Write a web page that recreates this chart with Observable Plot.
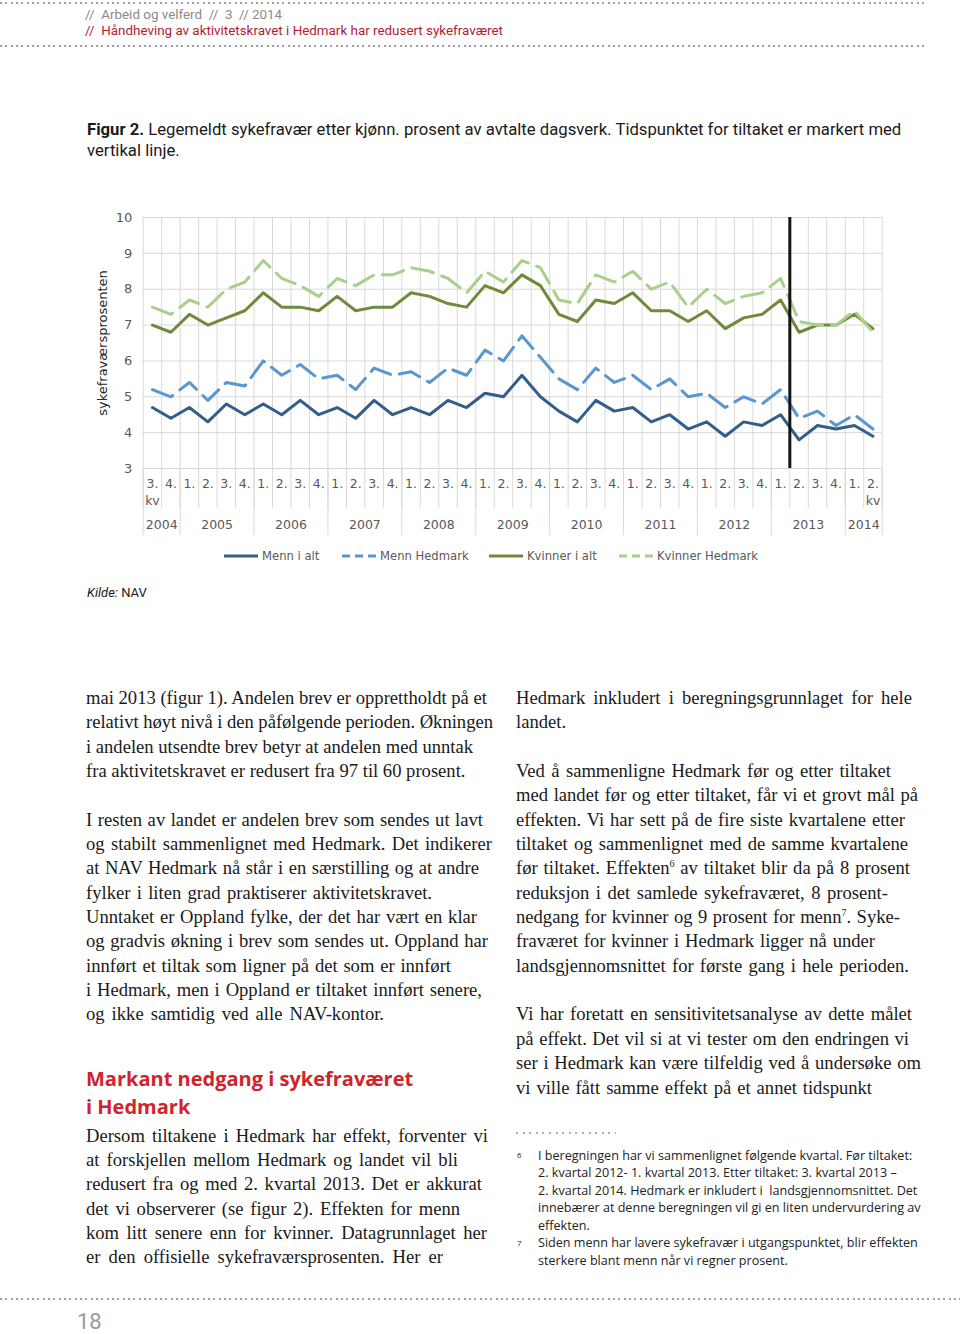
<!DOCTYPE html>
<html><head><meta charset="utf-8">
<script src="https://cdn.jsdelivr.net/npm/d3@7"></script>
<script src="https://cdn.jsdelivr.net/npm/@observablehq/plot@0.6"></script>
<style>
html,body{margin:0;padding:0;background:#fff;}
#page{position:relative;width:960px;height:1334px;overflow:hidden;background:#fff;}
.abs{position:absolute;white-space:nowrap;}
.abs div{white-space:nowrap;}
.dots{position:absolute;height:2px;background:repeating-linear-gradient(to right,#a0a0a0 0 2px,transparent 2px 5.33px);}
.hdr{font-family:"Liberation Sans Narrow","Roboto",sans-serif;font-size:13.4px;line-height:16px;}
.body{font-family:"Liberation Serif","Times New Roman",serif;font-size:18.6px;line-height:24.35px;color:#1a1a1a;}
.body sup{font-size:10px;line-height:0;vertical-align:7px;}
.fn{font-family:"Open Sans",sans-serif;font-size:12.6px;line-height:17.5px;color:#222;}
.leg{font-family:"DejaVu Sans",sans-serif;font-size:11.6px;line-height:14px;color:#595959;}
</style></head>
<body><div id="page">
  <div class="dots" style="left:0;top:2px;width:925px;"></div>
  <div class="abs hdr" style="left:85px;top:7px;color:#8a8a8a;">//&nbsp; Arbeid og velferd&nbsp; //&nbsp; 3&nbsp; //&nbsp;2014</div>
  <div class="abs hdr" style="left:85px;top:23px;color:#b31b33;">//&nbsp; Håndheving av aktivitetskravet i Hedmark har redusert sykefraværet</div>
  <div class="dots" style="left:0;top:45px;width:925px;"></div>

  <div class="abs" id="caption" style="left:87px;top:118.5px;font-family:Roboto,sans-serif;font-size:16.7px;line-height:21px;color:#1a1a1a;"><b>Figur 2.</b> Legemeldt sykefravær etter kjønn. prosent av avtalte dagsverk. Tidspunktet for tiltaket er markert med<br>vertikal linje.</div>

  <div id="chart" style="position:absolute;left:0;top:200px;"></div>
  <div id="legend"></div>

  <div class="abs" style="left:87px;top:585px;font-family:Roboto,sans-serif;font-size:13px;line-height:16px;color:#1a1a1a;"><i>Kilde:</i> NAV</div>

  <div class="abs body" style="left:86px;top:686px;">
    <div data-w="401">mai 2013 (figur 1). Andelen brev er opprettholdt på et</div>
    <div data-w="407">relativt høyt nivå i den påfølgende perioden. Økningen</div>
    <div data-w="387">i andelen utsendte brev betyr at andelen med unntak</div>
    <div>fra aktivitetskravet er redusert fra 97 til 60 prosent.</div>
    <div>&nbsp;</div>
    <div data-w="397">I resten av landet er andelen brev som sendes ut lavt</div>
    <div data-w="406">og stabilt sammenlignet med Hedmark. Det indikerer</div>
    <div data-w="393">at NAV Hedmark nå står i en særstilling og at andre</div>
    <div data-w="346">fylker i liten grad praktiserer aktivitetskravet.</div>
    <div data-w="391">Unntaket er Oppland fylke, der det har vært en klar</div>
    <div data-w="402">og gradvis økning i brev som sendes ut. Oppland har</div>
    <div data-w="365">innført et tiltak som ligner på det som er innført</div>
    <div data-w="396">i Hedmark, men i Oppland er tiltaket innført senere,</div>
    <div data-w="298">og ikke samtidig ved alle NAV-kontor.</div>
  </div>

  <div class="abs" style="left:86px;top:1065px;font-family:'Open Sans',sans-serif;font-weight:700;font-size:20px;line-height:28px;color:#d2222b;">Markant nedgang i sykefraværet<br>i Hedmark</div>

  <div class="abs body" style="left:86px;top:1124px;line-height:24.2px;">
    <div data-w="402">Dersom tiltakene i Hedmark har effekt, forventer vi</div>
    <div data-w="372">at forskjellen mellom Hedmark og landet vil bli</div>
    <div data-w="396">redusert fra og med 2. kvartal 2013. Det er akkurat</div>
    <div data-w="374">det vi observerer (se figur 2). Effekten for menn</div>
    <div data-w="401">kom litt senere enn for kvinner. Datagrunnlaget her</div>
    <div data-w="357">er den offisielle sykefraværsprosenten. Her er</div>
  </div>

  <div class="abs body" style="left:516px;top:686px;">
    <div data-w="396">Hedmark inkludert i beregningsgrunnlaget for hele</div>
    <div>landet.</div>
    <div>&nbsp;</div>
    <div data-w="375">Ved å sammenligne Hedmark før og etter tiltaket</div>
    <div data-w="402">med landet før og etter tiltaket, får vi et grovt mål på</div>
    <div data-w="389">effekten. Vi har sett på de fire siste kvartalene etter</div>
    <div data-w="392">tiltaket og sammenlignet med de samme kvartalene</div>
    <div data-w="394">før tiltaket. Effekten<sup>6</sup> av tiltaket blir da på 8 prosent</div>
    <div data-w="372">reduksjon i det samlede sykefraværet, 8 prosent-</div>
    <div data-w="384">nedgang for kvinner og 9 prosent for menn<sup>7</sup>. Syke-</div>
    <div data-w="359">fraværet for kvinner i Hedmark ligger nå under</div>
    <div data-w="393">landsgjennomsnittet for første gang i hele perioden.</div>
    <div>&nbsp;</div>
    <div data-w="396">Vi har foretatt en sensitivitetsanalyse av dette målet</div>
    <div data-w="393">på effekt. Det vil si at vi tester om den endringen vi</div>
    <div data-w="405">ser i Hedmark kan være tilfeldig ved å undersøke om</div>
    <div data-w="356">vi ville fått samme effekt på et annet tidspunkt</div>
  </div>

  <div class="dots" style="left:516px;top:1132px;width:100px;background:repeating-linear-gradient(to right,#b0b0b0 0 2px,transparent 2px 6.6px);"></div>

  <div class="abs fn" style="left:517px;top:1146px;font-size:8px;">6</div>
  <div class="abs fn" style="left:538px;top:1146.5px;">
    <div>I beregningen har vi sammenlignet følgende kvartal. Før tiltaket:</div>
    <div>2. kvartal 2012- 1. kvartal 2013. Etter tiltaket: 3. kvartal 2013 –</div>
    <div>2. kvartal 2014. Hedmark er inkludert i&nbsp; landsgjennomsnittet. Det</div>
    <div>innebærer at denne beregningen vil gi en liten undervurdering av</div>
    <div>effekten.</div>
  </div>
  <div class="abs fn" style="left:517px;top:1234px;font-size:8px;">7</div>
  <div class="abs fn" style="left:538px;top:1234px;">
    <div>Siden menn har lavere sykefravær i utgangspunktet, blir effekten</div>
    <div>sterkere blant menn når vi regner prosent.</div>
  </div>

  <div class="dots" style="left:0;top:1298px;width:960px;"></div>
  <div class="abs" style="left:77px;top:1310px;font-family:'Liberation Sans Narrow',Roboto,sans-serif;font-size:22px;line-height:24px;color:#9a9a9a;">18</div>
</div>
<script>
// ---- Data ----
const perioder = ["2004-3","2004-4","2005-1","2005-2","2005-3","2005-4","2006-1","2006-2","2006-3","2006-4",
  "2007-1","2007-2","2007-3","2007-4","2008-1","2008-2","2008-3","2008-4","2009-1","2009-2",
  "2009-3","2009-4","2010-1","2010-2","2010-3","2010-4","2011-1","2011-2","2011-3","2011-4",
  "2012-1","2012-2","2012-3","2012-4","2013-1","2013-2","2013-3","2013-4","2014-1","2014-2"];
const mennIAlt = [4.7,4.4,4.7,4.3,4.8,4.5,4.8,4.5,4.9,4.5,4.7,4.4,4.9,4.5,4.7,4.5,4.9,4.7,5.1,5.0,
  5.6,5.0,4.6,4.3,4.9,4.6,4.7,4.3,4.5,4.1,4.3,3.9,4.3,4.2,4.5,3.8,4.2,4.1,4.2,3.9];
const mennHedmark = [5.2,5.0,5.4,4.9,5.4,5.3,6.0,5.6,5.9,5.5,5.6,5.2,5.8,5.6,5.7,5.4,5.8,5.6,6.3,6.0,
  6.7,6.1,5.5,5.2,5.8,5.4,5.6,5.2,5.5,5.0,5.1,4.7,5.0,4.8,5.2,4.4,4.6,4.2,4.5,4.1];
const kvinnerIAlt = [7.0,6.8,7.3,7.0,7.2,7.4,7.9,7.5,7.5,7.4,7.8,7.4,7.5,7.5,7.9,7.8,7.6,7.5,8.1,7.9,
  8.4,8.1,7.3,7.1,7.7,7.6,7.9,7.4,7.4,7.1,7.4,6.9,7.2,7.3,7.7,6.8,7.0,7.0,7.3,6.9];
const kvinnerHedmark = [7.5,7.3,7.7,7.5,8.0,8.2,8.8,8.3,8.1,7.8,8.3,8.1,8.4,8.4,8.6,8.5,8.3,7.9,8.5,8.2,
  8.8,8.6,7.7,7.6,8.4,8.2,8.5,8.0,8.2,7.5,8.0,7.6,7.8,7.9,8.3,7.1,7.0,7.0,7.4,6.8];
const serieNavn = ["Menn i alt","Menn Hedmark","Kvinner i alt","Kvinner Hedmark"];
const serieFarger = ["#335e8b","#5b97cf","#6e8a3a","#a8cf8c"];
const serieStrek = [null,"22,9",null,"22,9"];
const yTicks = [3,4,5,6,7,8,9,10];
const yTittel = "sykefraværsprosenten";
const tiltakMellom = ["2013-1","2013-2"];

// ---- Derived ----
const serier = [mennIAlt, mennHedmark, kvinnerIAlt, kvinnerHedmark];
const n = perioder.length;
const aar = perioder.map(p => p.split("-")[0]);
const kv = perioder.map(p => p.split("-")[1]);
const kvLabel = (i) => kv[i] + "." + ((i === 0 || i === n - 1) ? "\nkv" : "");
const grenser = d3.range(n + 1).map(i => i - 0.5);
const aarGrupper = d3.groups(d3.range(n), i => aar[i]).map(([a, idx]) => ({aar: a, senter: d3.mean(idx), start: idx[0] - 0.5}));
const aarGrenser = aarGrupper.map(g => g.start).concat([n - 0.5]);
const tiltakX = (perioder.indexOf(tiltakMellom[0]) + perioder.indexOf(tiltakMellom[1])) / 2;

const chart = Plot.plot({
  width: 960, height: 345,
  marginTop: 17, marginBottom: 77, marginLeft: 142.7, marginRight: 78.3,
  x: {domain: [-0.5, n - 0.5]},
  y: {domain: [3, 10]},
  style: {fontFamily: "'DejaVu Sans', sans-serif", fontSize: "12.5px", color: "#595959", background: "transparent"},
  marks: [
    Plot.gridY({ticks: yTicks, stroke: "#d9d9d9", strokeOpacity: 1}),
    Plot.gridX({ticks: grenser, stroke: "#d9d9d9", strokeOpacity: 1}),
    Plot.axisX({ticks: grenser, tickSize: 40, tickFormat: () => "", stroke: "#d9d9d9", strokeOpacity: 1, label: null}),
    Plot.axisX({ticks: aarGrenser, tickSize: 67, tickFormat: () => "", stroke: "#d9d9d9", strokeOpacity: 1, label: null}),
    Plot.axisY({ticks: yTicks, tickSize: 0, tickPadding: 11, tickFormat: d3.format("d"), label: null, fill: "#595959", fontSize: 13}),
    Plot.text(d3.range(n), {x: i => i, text: i => kvLabel(i), frameAnchor: "bottom", lineAnchor: "top", dy: 8, lineHeight: 1.35, fill: "#595959"}),
    Plot.text(aarGrupper, {x: "senter", text: "aar", frameAnchor: "bottom", lineAnchor: "top", dy: 52, fill: "#595959"}),
    Plot.text([yTittel], {text: d => d, frameAnchor: "left", textAnchor: "middle", rotate: -90, dx: -40.7, fill: "#262626", fontSize: 13}),
    ...serier.map((s, k) => Plot.line(s, {x: (d, i) => i, y: d => d, stroke: serieFarger[k], strokeWidth: 3,
      strokeLinejoin: "round", strokeDasharray: serieStrek[k] || undefined})),
    Plot.ruleX([tiltakX], {y1: 3, y2: 10, stroke: "#141414", strokeWidth: 3})
  ]
});
document.getElementById("chart").appendChild(chart);

// Legend
const legX = [224, 342, 489, 619];
const leg = document.getElementById("legend");
serieNavn.forEach((name, k) => {
  const d = document.createElement("div");
  d.className = "abs leg";
  d.style.left = legX[k] + "px";
  d.style.top = "549px";
  d.innerHTML = `<svg width="34" height="6" style="vertical-align:middle;margin-right:4px;position:relative;top:-1px"><line x1="0" x2="34" y1="3" y2="3" stroke="${serieFarger[k]}" stroke-width="3" ${serieStrek[k] ? 'stroke-dasharray="8,5"' : ''}/></svg>${name}`;
  leg.appendChild(d);
});

// Match the ragged line ends of the printed page (word spacing per line)
document.querySelectorAll("[data-w]").forEach(el => {
  const span = document.createElement("span");
  while (el.firstChild) span.appendChild(el.firstChild);
  el.appendChild(span);
  const natural = span.getBoundingClientRect().width;
  const spaces = (el.textContent.match(/ /g) || []).length;
  if (spaces > 0) el.style.wordSpacing = ((+el.dataset.w - natural) / spaces).toFixed(2) + "px";
});
</script>
</body></html>
